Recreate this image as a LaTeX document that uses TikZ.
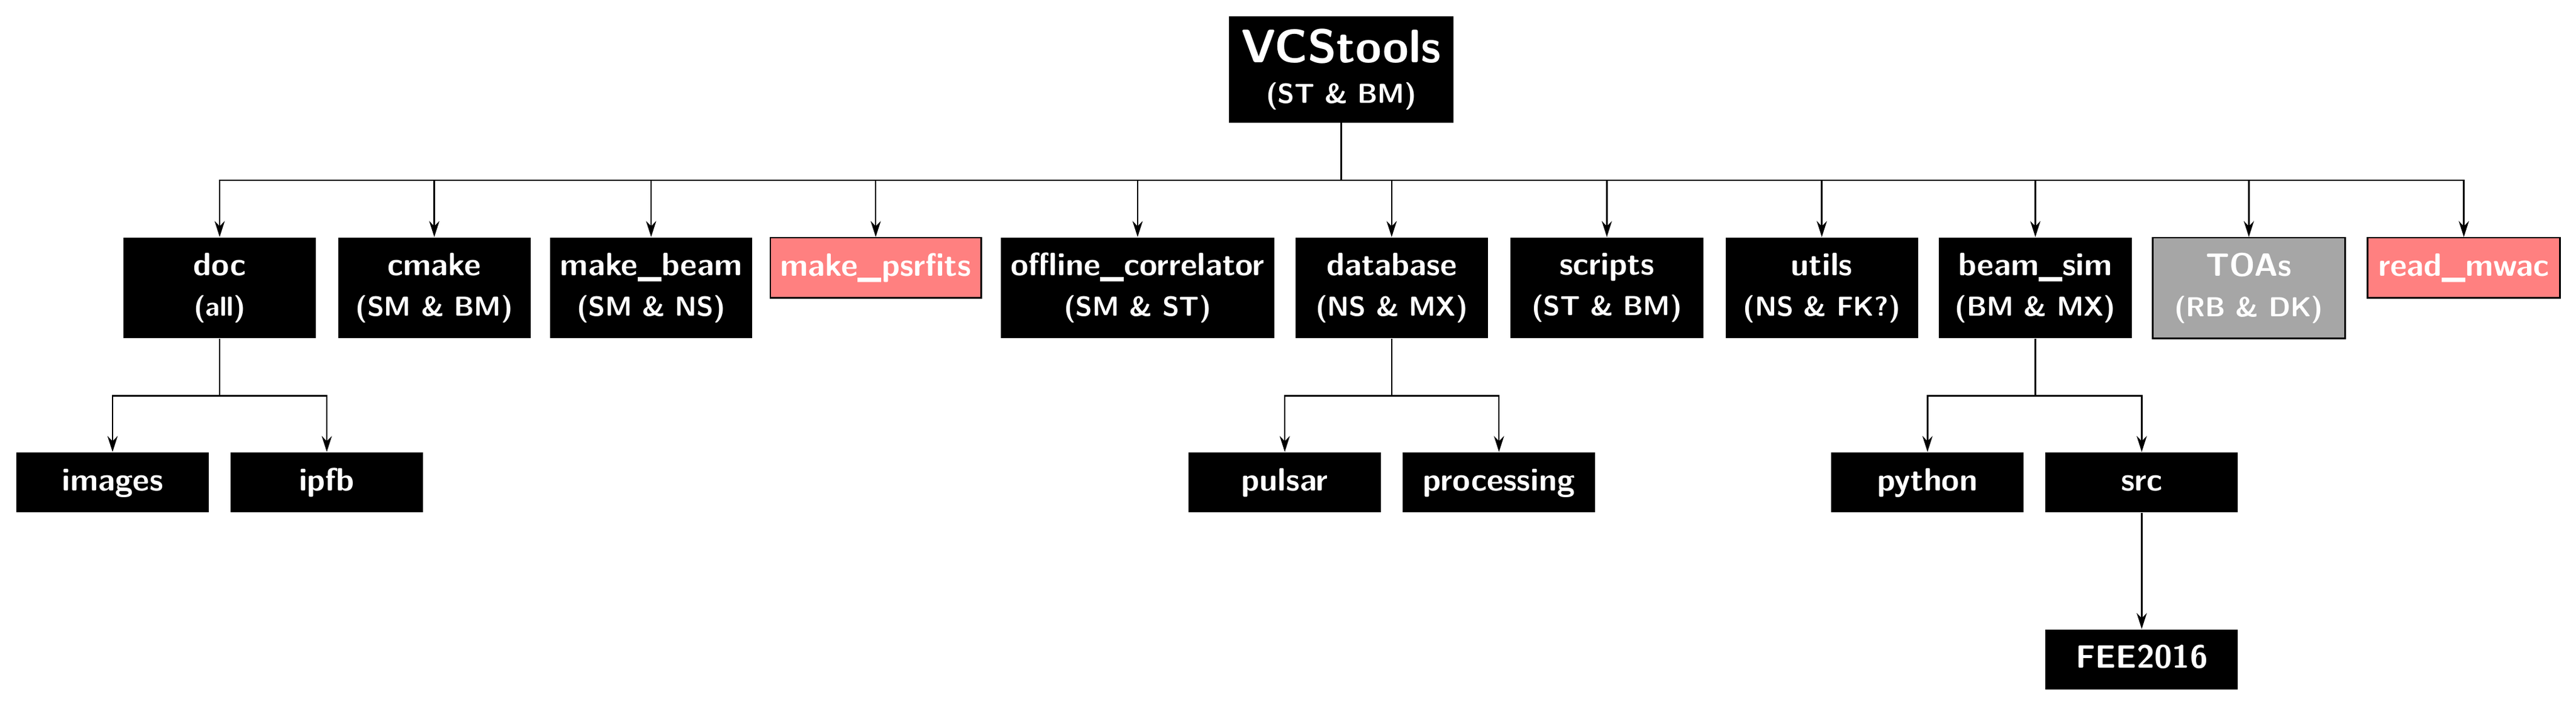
\documentclass[tikz,border=0pt]{standalone}
\usepackage{tikz}
\usetikzlibrary{arrows.meta}

\newcommand{\folder}[1]{{\fontsize{12.7}{16}\selectfont #1}}

\tikzset{
  box/.style = {fill=black, text=white, align=center, inner xsep=4pt,
                minimum width=2.66cm},
  dir/.style = {box, font=\sffamily\bfseries\fontsize{12.7}{16}\selectfont,
                minimum height=0.83cm, text height=9pt, text depth=2.5pt},
  dirtwo/.style = {box, font=\sffamily\bfseries\fontsize{10.8}{16}\selectfont,
                   minimum height=1.39cm},
  todo/.style = {dir, fill=red!50, draw=black, semithick},
  stale/.style = {dirtwo, fill=black!35, draw=black, semithick},
  link/.style = {semithick, -{Stealth[length=2.2mm,width=1.4mm]}}
}

\begin{document}
\begin{tikzpicture}

\useasboundingbox (0,0) rectangle (35.59,-9.73);

\node[dirtwo, minimum height=1.47cm, inner xsep=5pt] (vcs) at (18.53,-0.958)
  {{\fontsize{18.5}{22}\selectfont VCStools}\\(ST \& BM)};

\node[dirtwo, anchor=north] (doc)      at (3.035,-3.276)  {\folder{doc}\\(all)};
\node[dirtwo, anchor=north] (cmake)    at (6.000,-3.276)  {\folder{cmake}\\(SM \& BM)};
\node[dirtwo, anchor=north] (makebeam) at (8.996,-3.276)  {\folder{make\_beam}\\(SM \& NS)};
\node[todo,   anchor=north] (psrfits)  at (12.099,-3.276) {make\_psrfits};
\node[dirtwo, anchor=north] (offline)  at (15.717,-3.276) {\folder{offline\_correlator}\\(SM \& ST)};
\node[dirtwo, anchor=north] (database) at (19.227,-3.276) {\folder{database}\\(NS \& MX)};
\node[dirtwo, anchor=north] (scripts)  at (22.200,-3.276) {\folder{scripts}\\(ST \& BM)};
\node[dirtwo, anchor=north] (utils)    at (25.170,-3.276) {\folder{utils}\\(NS \& FK?)};
\node[dirtwo, anchor=north] (beamsim)  at (28.120,-3.276) {\folder{beam\_sim}\\(BM \& MX)};
\node[stale,  anchor=north] (toas)     at (31.070,-3.276) {\folder{TOAs}\\(RB \& DK)};
\node[todo,   anchor=north] (readmwac) at (34.040,-3.276) {read\_mwac};

\node[dir, anchor=north] (images)     at (1.555,-6.247)  {images};
\node[dir, anchor=north] (ipfb)       at (4.515,-6.247)  {ipfb};
\node[dir, anchor=north] (pulsar)     at (17.750,-6.247) {pulsar};
\node[dir, anchor=north] (processing) at (20.710,-6.247) {processing};
\node[dir, anchor=north] (python)     at (26.630,-6.247) {python};
\node[dir, anchor=north] (src)        at (29.590,-6.247) {src};
\node[dir, anchor=north] (fee)        at (29.590,-8.694) {FEE2016};

\foreach \c in {doc,cmake,makebeam,psrfits,offline,database,scripts,utils,beamsim,toas,readmwac}
  \draw[link] (vcs.south) -- ++(0,-0.79) -| (\c.north);
\foreach \c in {images,ipfb}
  \draw[link] (doc.south) -- ++(0,-0.79) -| (\c.north);
\foreach \c in {pulsar,processing}
  \draw[link] (database.south) -- ++(0,-0.79) -| (\c.north);
\foreach \c in {python,src}
  \draw[link] (beamsim.south) -- ++(0,-0.79) -| (\c.north);
\draw[link] (src) -- (fee);

\end{tikzpicture}
\end{document}
